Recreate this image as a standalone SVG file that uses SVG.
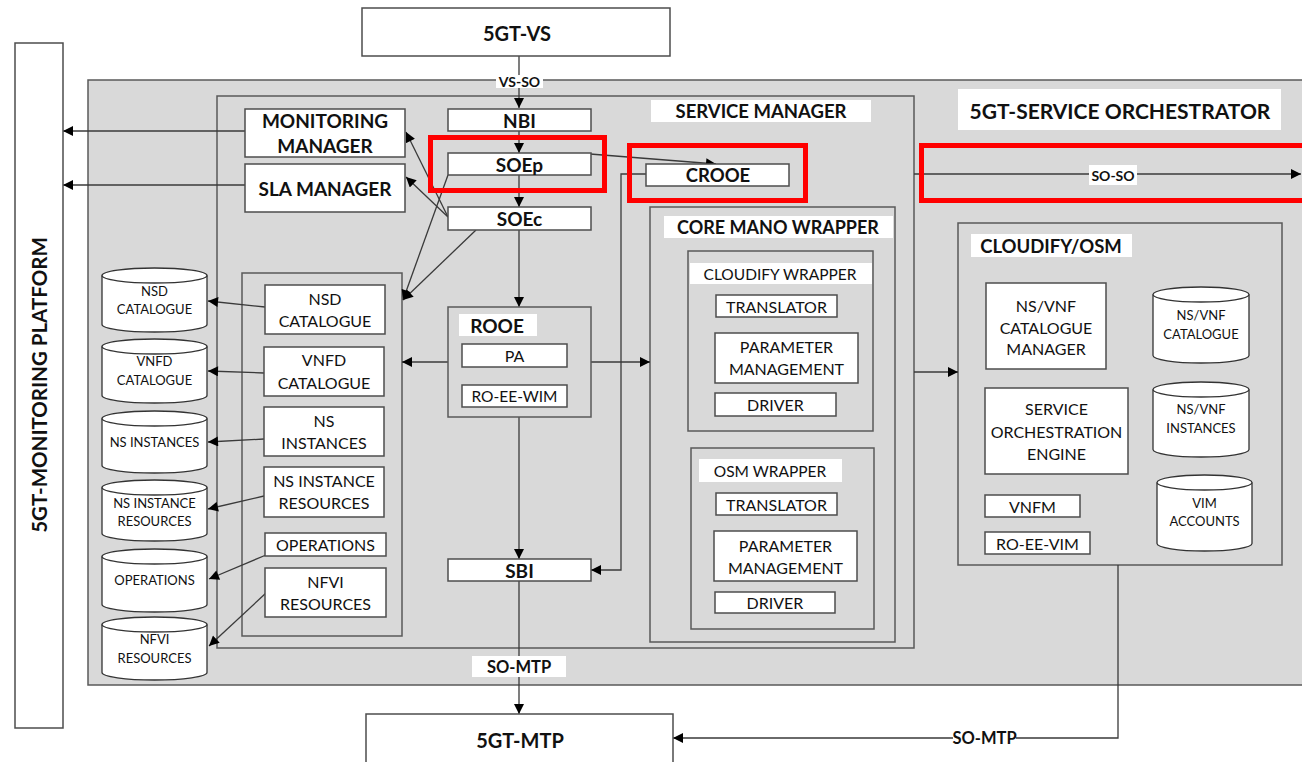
<svg xmlns="http://www.w3.org/2000/svg" width="1302" height="762" viewBox="0 0 1302 762">
<defs>
<style>
.bg{fill:#d9d9d9;stroke:#595959;stroke-width:1.5}
.bx{fill:#ffffff;stroke:#4d4d4d;stroke-width:1.5}
.lb{fill:#ffffff;stroke:none}
.red{fill:none;stroke:#ff0000;stroke-width:5}
.cy{fill:#ffffff;stroke:#333333;stroke-width:1.3}
.ln{fill:none;stroke:#3a3a3a;stroke-width:1.3}
.lna{fill:none;stroke:#3a3a3a;stroke-width:1.3;marker-end:url(#ah)}
text{font-family:Lato,"Liberation Sans",sans-serif;fill:#111111;text-anchor:middle;dominant-baseline:central}
.b{font-weight:bold}
.t19{font-size:19px}
.t16{font-size:16px}
.t13{font-size:13px}
</style>
<marker id="ah" viewBox="0 0 10 10" refX="10" refY="5" markerWidth="11" markerHeight="10" orient="auto" markerUnits="userSpaceOnUse">
<path d="M0,0 L10,5 L0,10 z" fill="#000000"/>
</marker>
</defs>
<rect width="1302" height="762" fill="#ffffff"/>

<!-- containers -->
<g id="orchestrator">
<rect class="bg" x="88" y="80" width="1220" height="605"/>
<rect class="lb" x="958" y="89" width="323" height="41"/>
<text class="b" x="1120" y="110" font-size="21">5GT-SERVICE ORCHESTRATOR</text>
</g>
<g id="service-manager">
<rect class="bg" x="217" y="96" width="697" height="552"/>
<rect class="lb" x="651" y="100" width="220" height="22"/>
<text class="b" x="761" y="111" font-size="18.5">SERVICE MANAGER</text>
</g>
<g id="catalogue-container">
<rect class="bg" x="242" y="273" width="160" height="363"/>
</g>
<g id="core-mano-wrapper">
<rect class="bg" x="650" y="207" width="245" height="435"/>
<rect class="lb" x="664" y="216" width="229" height="22"/>
<text class="b" x="778" y="227" font-size="18">CORE MANO WRAPPER</text>
</g>
<g id="cloudify-wrapper">
<rect class="bg" x="688" y="251" width="185" height="180"/>
<rect class="lb" x="690" y="263" width="182" height="21"/>
<text x="780" y="273.5" font-size="15.5">CLOUDIFY WRAPPER</text>
</g>
<g id="osm-wrapper">
<rect class="bg" x="691" y="448" width="183" height="181"/>
<rect class="lb" x="699" y="459" width="143" height="23"/>
<text x="770" y="470.5" font-size="15.5">OSM WRAPPER</text>
</g>
<g id="cloudify-osm">
<rect class="bg" x="958" y="223" width="324" height="342"/>
<rect class="lb" x="971" y="234" width="161" height="23"/>
<text class="b" x="1051" y="245.5" font-size="18.5">CLOUDIFY/OSM</text>
</g>

<!-- connectors -->
<g id="connectors">
<path class="lna" d="M519,56 V108"/>
<path class="lna" d="M519,131 V153"/>
<path class="lna" d="M519,175 V207"/>
<path class="lna" d="M519,230 V307"/>
<path class="lna" d="M519,417 V559"/>
<path class="lna" d="M519,581 V714"/>
<path class="lna" d="M590,154 L716,164"/>
<path class="lna" d="M646,174 H621 V570 H591"/>
<path class="lna" d="M591,362 H650"/>
<path class="lna" d="M448,362 H402"/>
<path class="lna" d="M914,372 H958"/>
<path class="lna" d="M914,174 H1301"/>
<path class="lna" d="M1118,565 V738 H673"/>
<path class="lna" d="M448,217 L406,132"/>
<path class="lna" d="M448,217 L406,177"/>
<path class="lna" d="M448,175 L403,300"/>
<path class="lna" d="M476,230 L403,300"/>
<path class="lna" d="M245,131 H63"/>
<path class="lna" d="M245,185 H63"/>
<path class="lna" d="M265,307 L208,301"/>
<path class="lna" d="M264,373 L208,371"/>
<path class="lna" d="M264,439 L208,442"/>
<path class="lna" d="M264,496 L208,509"/>
<path class="lna" d="M266,555 L209,579"/>
<path class="lna" d="M266,593 L209,646"/>
<rect class="lb" x="496" y="75" width="47" height="13"/>
<text class="b" x="519.5" y="81.5" font-size="14">VS-SO</text>
<rect class="lb" x="472" y="656" width="94" height="21"/>
<text class="b" x="519" y="666.5" font-size="16.5">SO-MTP</text>
<rect class="lb" x="1089" y="165" width="48" height="20"/>
<text class="b" x="1113" y="175" font-size="14">SO-SO</text>
<rect class="lb" x="953" y="729" width="63" height="18"/>
<text class="b" x="984.5" y="738" font-size="16.5">SO-MTP</text>
</g>

<!-- nodes -->
<g id="vs"><rect class="bx" x="362" y="8" width="308" height="48"/><text class="b" x="517" y="33" font-size="20">5GT-VS</text></g>
<g id="mtp"><rect class="bx" x="366" y="714" width="307" height="52"/><text class="b" x="520" y="740" font-size="20">5GT-MTP</text></g>
<g id="monitoring-platform"><rect class="bx" x="15" y="43" width="48" height="685"/><text class="b" transform="translate(39,385) rotate(-90)" font-size="20.5">5GT-MONITORING PLATFORM</text></g>
<g id="monitoring-manager"><rect class="bx" x="245" y="109" width="160" height="48"/><text class="b t19" x="325" y="120">MONITORING</text><text class="b t19" x="325" y="145">MANAGER</text></g>
<g id="sla-manager"><rect class="bx" x="245" y="164" width="160" height="48"/><text class="b t19" x="325" y="188">SLA MANAGER</text></g>
<g id="nbi"><rect class="bx" x="448" y="109" width="143" height="22"/><text class="b t19" x="519.5" y="120">NBI</text></g>
<g id="soep"><rect class="bx" x="448" y="153" width="143" height="22"/><text class="b t19" x="519.5" y="164">SOEp</text></g>
<g id="soec"><rect class="bx" x="448" y="207" width="143" height="23"/><text class="b t19" x="519.5" y="218">SOEc</text></g>
<g id="crooe"><rect class="bx" x="646" y="164" width="143" height="22"/><text class="b" x="718" y="175" font-size="18.5">CROOE</text></g>
<g id="rooe"><rect class="bg" x="448" y="307" width="143" height="110"/><rect class="lb" x="459" y="314" width="78" height="22"/><text class="b t19" x="497" y="325">ROOE</text>
<rect class="bx" x="462" y="344" width="105" height="23"/><text class="t16" x="514.5" y="355.5">PA</text>
<rect class="bx" x="462" y="385" width="105" height="22"/><text x="514.5" y="396" font-size="15.5">RO-EE-WIM</text></g>
<g id="sbi"><rect class="bx" x="448" y="559" width="143" height="22"/><text class="b t19" x="519.5" y="570">SBI</text></g>

<g id="nsd-catalogue"><rect class="bx" x="265" y="285" width="120" height="49"/><text class="t16" x="325" y="298">NSD</text><text class="t16" x="325" y="320">CATALOGUE</text></g>
<g id="vnfd-catalogue"><rect class="bx" x="264" y="347" width="120" height="49"/><text class="t16" x="324" y="359">VNFD</text><text class="t16" x="324" y="382">CATALOGUE</text></g>
<g id="ns-instances"><rect class="bx" x="264" y="407" width="120" height="49"/><text class="t16" x="324" y="420">NS</text><text class="t16" x="324" y="442">INSTANCES</text></g>
<g id="ns-instance-resources"><rect class="bx" x="264" y="467" width="120" height="50"/><text class="t16" x="324" y="480">NS INSTANCE</text><text class="t16" x="324" y="502">RESOURCES</text></g>
<g id="operations"><rect class="bx" x="265" y="533" width="121" height="23"/><text class="t16" x="325.5" y="544">OPERATIONS</text></g>
<g id="nfvi-resources"><rect class="bx" x="265" y="568" width="121" height="49"/><text class="t16" x="325.5" y="581">NFVI</text><text class="t16" x="325.5" y="603">RESOURCES</text></g>

<g id="db-nsd"><path class="cy" d="M102,275.5 V324.5 A52.5,7.5 0 0 0 207,324.5 V275.5"/><ellipse class="cy" cx="154.5" cy="275.5" rx="52.5" ry="7.5"/><text class="t13" x="154.5" y="291">NSD</text><text class="t13" x="154.5" y="309">CATALOGUE</text></g>
<g id="db-vnfd"><path class="cy" d="M102,346.5 V395.5 A52.5,7.5 0 0 0 207,395.5 V346.5"/><ellipse class="cy" cx="154.5" cy="346.5" rx="52.5" ry="7.5"/><text class="t13" x="154.5" y="361">VNFD</text><text class="t13" x="154.5" y="380">CATALOGUE</text></g>
<g id="db-ns-instances"><path class="cy" d="M102,418.5 V465.5 A52.5,7.5 0 0 0 207,465.5 V418.5"/><ellipse class="cy" cx="154.5" cy="418.5" rx="52.5" ry="7.5"/><text class="t13" x="154.5" y="442">NS INSTANCES</text></g>
<g id="db-ns-instance-resources"><path class="cy" d="M102,487.5 V533.5 A52.5,7.5 0 0 0 207,533.5 V487.5"/><ellipse class="cy" cx="154.5" cy="487.5" rx="52.5" ry="7.5"/><text class="t13" x="154.5" y="503">NS INSTANCE</text><text class="t13" x="154.5" y="521">RESOURCES</text></g>
<g id="db-operations"><path class="cy" d="M102,556.5 V604.5 A52.5,7.5 0 0 0 207,604.5 V556.5"/><ellipse class="cy" cx="154.5" cy="556.5" rx="52.5" ry="7.5"/><text class="t13" x="154.5" y="580">OPERATIONS</text></g>
<g id="db-nfvi-resources"><path class="cy" d="M102,624.5 V672.5 A52.5,7.5 0 0 0 207,672.5 V624.5"/><ellipse class="cy" cx="154.5" cy="624.5" rx="52.5" ry="7.5"/><text class="t13" x="154.5" y="639">NFVI</text><text class="t13" x="154.5" y="658">RESOURCES</text></g>

<g id="cw-translator"><rect class="bx" x="716" y="295" width="121" height="22"/><text class="t16" x="776.5" y="306">TRANSLATOR</text></g>
<g id="cw-parameter"><rect class="bx" x="715" y="333" width="143" height="50"/><text class="t16" x="786.5" y="346">PARAMETER</text><text class="t16" x="786.5" y="368">MANAGEMENT</text></g>
<g id="cw-driver"><rect class="bx" x="715" y="393" width="121" height="23"/><text class="t16" x="775.5" y="404.5">DRIVER</text></g>
<g id="osm-translator"><rect class="bx" x="716" y="493" width="121" height="22"/><text class="t16" x="776.5" y="504">TRANSLATOR</text></g>
<g id="osm-parameter"><rect class="bx" x="714" y="531" width="143" height="50"/><text class="t16" x="785.5" y="545">PARAMETER</text><text class="t16" x="785.5" y="567">MANAGEMENT</text></g>
<g id="osm-driver"><rect class="bx" x="715" y="592" width="120" height="21"/><text class="t16" x="775" y="602.5">DRIVER</text></g>

<g id="catalogue-manager"><rect class="bx" x="986" y="283" width="120" height="86"/><text class="t16" x="1046" y="305">NS/VNF</text><text class="t16" x="1046" y="327">CATALOGUE</text><text class="t16" x="1046" y="348">MANAGER</text></g>
<g id="orchestration-engine"><rect class="bx" x="985" y="388" width="143" height="86"/><text class="t16" x="1056.5" y="408">SERVICE</text><text class="t16" x="1056.5" y="431">ORCHESTRATION</text><text class="t16" x="1056.5" y="453">ENGINE</text></g>
<g id="vnfm"><rect class="bx" x="985" y="495" width="95" height="22"/><text class="t16" x="1032.5" y="506">VNFM</text></g>
<g id="ro-ee-vim"><rect class="bx" x="985" y="532" width="105" height="22"/><text class="t16" x="1037.5" y="543">RO-EE-VIM</text></g>
<g id="db-nsvnf-catalogue"><path class="cy" d="M1153,294.5 V355.5 A48,7.5 0 0 0 1249,355.5 V294.5"/><ellipse class="cy" cx="1201" cy="294.5" rx="48" ry="7.5"/><text class="t13" x="1201" y="315">NS/VNF</text><text class="t13" x="1201" y="334">CATALOGUE</text></g>
<g id="db-nsvnf-instances"><path class="cy" d="M1153,389.5 V449.5 A48,7.5 0 0 0 1249,449.5 V389.5"/><ellipse class="cy" cx="1201" cy="389.5" rx="48" ry="7.5"/><text class="t13" x="1201" y="409">NS/VNF</text><text class="t13" x="1201" y="428">INSTANCES</text></g>
<g id="db-vim-accounts"><path class="cy" d="M1157,482.5 V543.5 A47.5,7.5 0 0 0 1252,543.5 V482.5"/><ellipse class="cy" cx="1204.5" cy="482.5" rx="47.5" ry="7.5"/><text class="t13" x="1204.5" y="503">VIM</text><text class="t13" x="1204.5" y="521">ACCOUNTS</text></g>

<!-- highlights -->
<g id="highlights">
<rect class="red" x="430.5" y="137.5" width="174" height="53"/>
<rect class="red" x="629.5" y="145.5" width="176" height="55"/>
<rect class="red" x="921.5" y="145.5" width="400" height="55"/>
</g>
</svg>
